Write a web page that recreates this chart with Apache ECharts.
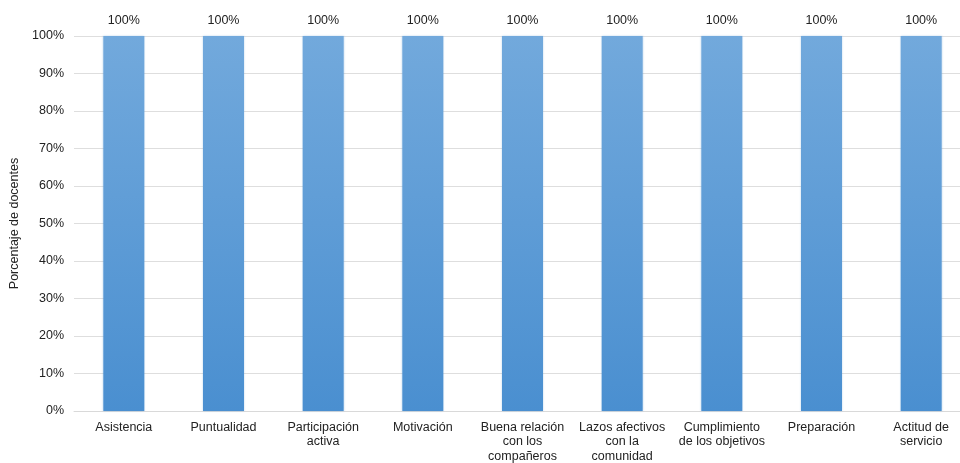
<!DOCTYPE html>
<html>
<head>
<meta charset="utf-8">
<script src="https://cdn.jsdelivr.net/npm/echarts@6/dist/echarts.min.js"></script>
<style>
  html, body { margin: 0; padding: 0; background: #fff; }
  #chart { width: 960px; height: 463px; }
</style>
</head>
<body>
<div id="chart"></div>
<script>
// Categories (aspects evaluated) and share of teachers
const categories = [
  'Asistencia',
  'Puntualidad',
  'Participación\nactiva',
  'Motivación',
  'Buena relación\ncon los\ncompañeros',
  'Lazos afectivos\ncon la\ncomunidad',
  'Cumplimiento\nde los objetivos',
  'Preparación',
  'Actitud de\nservicio'
];
const values = [100, 100, 100, 100, 100, 100, 100, 100, 100];
const yTicks = [0, 10, 20, 30, 40, 50, 60, 70, 80, 90, 100];

const font = 'Liberation Sans, Arial, sans-serif';
const chart = echarts.init(document.getElementById('chart'));
chart.setOption({
  animation: false,
  grid: {
    left: 74, top: 36, width: 897, height: 375,
    containLabel: false, outerBoundsMode: 'none'
  },
  xAxis: {
    type: 'category',
    data: categories,
    axisLine: { show: true, lineStyle: { color: '#d9d9d9' } },
    axisTick: { show: false },
    axisLabel: {
      interval: 0, color: '#222', fontFamily: font, fontSize: 12.5,
      lineHeight: 14.5, margin: 9
    }
  },
  yAxis: {
    type: 'value',
    min: yTicks[0],
    max: yTicks[yTicks.length - 1],
    interval: 10,
    name: 'Porcentaje de docentes',
    nameLocation: 'middle',
    nameGap: 53,
    nameTextStyle: { color: '#222', fontFamily: font, fontSize: 12.5 },
    axisLine: { show: false },
    axisTick: { show: false },
    axisLabel: { color: '#222', fontFamily: font, fontSize: 12.5, formatter: v => v + '%', margin: 10 },
    splitLine: { lineStyle: { color: '#dedede', width: 1 } }
  },
  series: [{
    type: 'bar',
    data: values,
    barWidth: 41,
    itemStyle: {
      color: new echarts.graphic.LinearGradient(0, 0, 0, 1, [
        { offset: 0, color: '#72a9dc' },
        { offset: 1, color: '#4a8fd0' }
      ]),
      shadowColor: 'rgba(74,143,208,0.35)',
      shadowBlur: 2
    },
    label: {
      show: true, position: 'top', distance: 9,
      color: '#222', fontFamily: font, fontSize: 12.5,
      formatter: p => p.value + '%'
    }
  }]
});
</script>
</body>
</html>
